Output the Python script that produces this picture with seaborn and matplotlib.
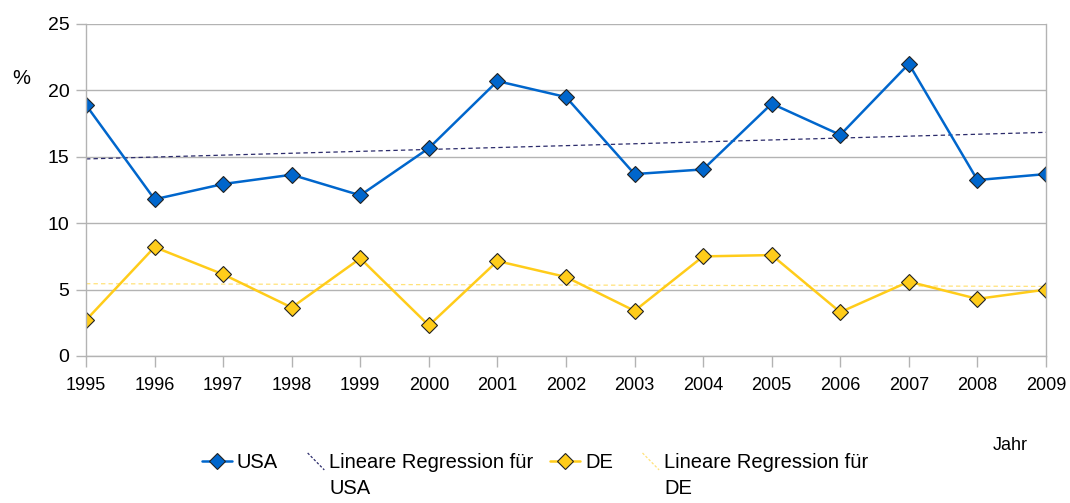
import matplotlib
matplotlib.use("Agg")
import matplotlib.pyplot as plt
import numpy as np
import pandas as pd
import seaborn as sns
from matplotlib.lines import Line2D
from matplotlib.legend_handler import HandlerBase

# ----------------------------------------------------------------------
# data
# ----------------------------------------------------------------------
years = list(range(1995, 2010))
usa = [18.9, 11.8, 12.95, 13.65, 12.1, 15.65, 20.7, 19.5, 13.7, 14.05,
       19.0, 16.65, 22.0, 13.25, 13.7]
de = [2.7, 8.2, 6.15, 3.65, 7.35, 2.3, 7.15, 5.95, 3.4, 7.5,
      7.6, 3.3, 5.6, 4.3, 5.0]
countries = ["USA", "DE"]

COL_USA = "#0066cc"
COL_DE = "#ffcc1a"
COL_REG_USA = "#2b2b6b"
COL_REG_DE = "#ffe27a"
GRID = "#b3b3b3"

df = pd.DataFrame({
    "Jahr": years * 2,
    "Wert": usa + de,
    "Land": ["USA"] * len(years) + ["DE"] * len(years),
})

sns.set_style("white")
plt.rcParams["font.family"] = ["Liberation Sans", "DejaVu Sans"]
plt.rcParams["text.color"] = "black"
plt.rcParams["xtick.color"] = "black"
plt.rcParams["ytick.color"] = "black"

fig = plt.figure(figsize=(10.7, 5.03), dpi=100)
ax = fig.add_axes([86 / 1070, 1 - 356 / 503, 960 / 1070, 332 / 503])

# regression lines first so the series sit on top
for land, col in [("USA", COL_REG_USA), ("DE", COL_REG_DE)]:
    sns.regplot(data=df[df["Land"] == land], x="Jahr", y="Wert", ci=None,
                scatter=False, ax=ax,
                line_kws=dict(color=col, lw=0.9, ls=(0, (3.5, 2.5))))

sns.lineplot(data=df, x="Jahr", y="Wert", hue="Land", hue_order=countries,
             palette={"USA": COL_USA, "DE": COL_DE}, marker="D", markersize=8,
             markeredgecolor="#222222", markeredgewidth=0.8, linewidth=1.8,
             legend=False, ax=ax)

ax.set_xlim(1995, 2009)
ax.set_ylim(0, 25)
ax.set_xticks(years)
ax.set_yticks(range(0, 26, 5))
ax.set_xlabel("")
ax.set_ylabel("")
ax.yaxis.grid(True, color=GRID, lw=1)
ax.xaxis.grid(False)
ax.set_axisbelow(True)
for s in ax.spines.values():
    s.set_color(GRID)
    s.set_linewidth(1)
ax.spines["top"].set_visible(False)
ax.tick_params(axis="x", bottom=True, length=7.8, color=GRID, width=1, pad=7.5,
               labelsize=13, labelcolor="black")
ax.tick_params(axis="y", left=True, length=7.5, color=GRID, width=1, pad=4.5,
               labelsize=14, labelcolor="black")

fig.text(12 / 1070, 1 - 78 / 503, "%", fontsize=14.5, va="center", ha="left")
fig.text(993 / 1070, 1 - 445 / 503, "Jahr", fontsize=13, va="center", ha="left")


# legend: regression entries get a short diagonal dashed handle
class HandlerDiag(HandlerBase):
    def create_artists(self, legend, orig_handle, xdescent, ydescent,
                       width, height, fontsize, trans):
        x0 = -xdescent + width * 0.45
        x1 = -xdescent + width
        ln = Line2D([x0, x1], [height * 1.1 - ydescent, -ydescent - height * 0.1],
                    color=orig_handle.get_color(), lw=0.9, ls=(0, (2, 1.5)))
        ln.set_transform(trans)
        return [ln]


h_usa = Line2D([], [], color=COL_USA, lw=1.8, marker="D", markersize=8,
               markeredgecolor="#222222", markeredgewidth=0.8)
h_reg_usa = Line2D([], [], color=COL_REG_USA)
h_de = Line2D([], [], color=COL_DE, lw=1.8, marker="D", markersize=8,
              markeredgecolor="#222222", markeredgewidth=0.8)
h_reg_de = Line2D([], [], color=COL_REG_DE)

leg = fig.legend([h_usa, h_reg_usa, h_de, h_reg_de],
                 ["USA", "Lineare Regression für", "DE", "Lineare Regression für"],
                 handler_map={h_reg_usa: HandlerDiag(), h_reg_de: HandlerDiag()},
                 loc="center", bbox_to_anchor=(0.5, 1 - 463 / 503), ncol=4,
                 frameon=False, fontsize=14.5, handlelength=1.5, handletextpad=0.25,
                 columnspacing=0.8, borderpad=0, borderaxespad=0)

# second line of the wrapped regression labels
fig.canvas.draw()
renderer = fig.canvas.get_renderer()
inv = fig.transFigure.inverted()
for t, extra in zip([leg.get_texts()[1], leg.get_texts()[3]], countries):
    bb = t.get_window_extent(renderer)
    x0, y0 = inv.transform((bb.x0, bb.y0))
    fig.text(x0, y0 - 6 / 503, extra, fontsize=14.5, ha="left", va="top")

fig.savefig("out.png", dpi=100)
